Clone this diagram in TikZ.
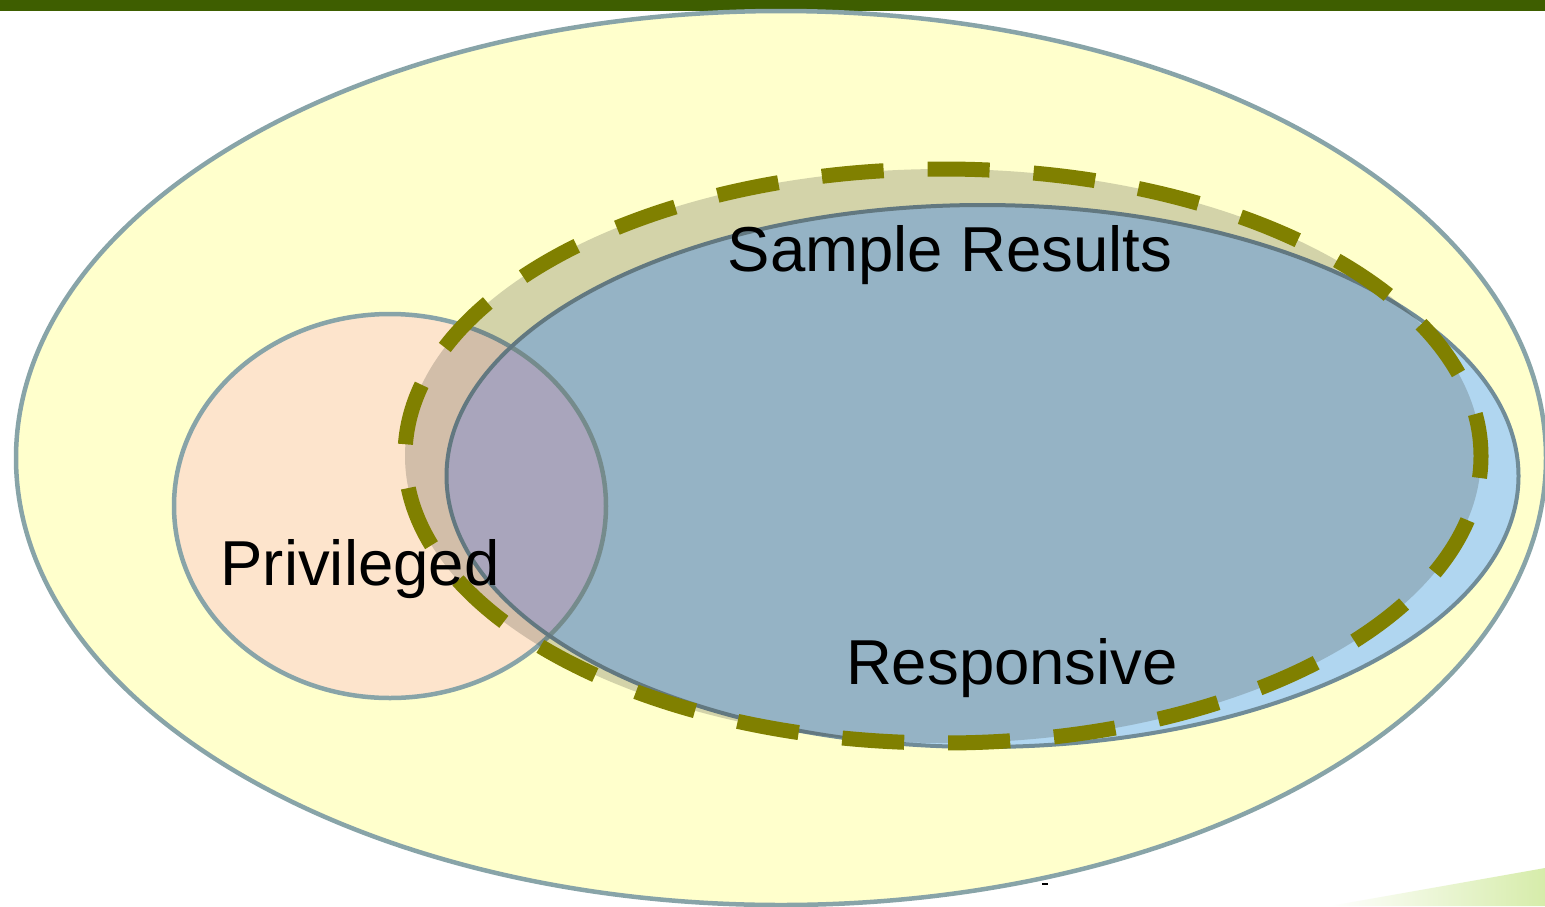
\documentclass[tikz,border=0pt]{standalone}
\usepackage{fontspec}
\setmainfont{Liberation Sans}
\begin{document}
\begin{tikzpicture}[x=1pt,y=-1pt,
  rimline/.style={draw=rim, line width=4.5pt},
  label/.style={font=\fontsize{63.5}{70}\selectfont, text=black, anchor=base, inner sep=0pt},
  samplerim/.style={draw=olivedash, line width=15pt, dash pattern=on 62pt off 44pt, dash phase=40pt}]
\definecolor{barGreen}{RGB}{62,94,0}
\definecolor{yellowFill}{RGB}{255,255,204}
\definecolor{rim}{RGB}{136,164,168}
\definecolor{peach}{RGB}{253,228,204}
\definecolor{skyblue}{RGB}{176,214,240}
\definecolor{lavender}{RGB}{202,196,228}
\definecolor{blueRim}{RGB}{112,140,152}
\definecolor{olivedash}{RGB}{128,128,0}
\definecolor{stipple}{RGB}{50,50,40}
\definecolor{paleGreen}{RGB}{214,236,170}

\useasboundingbox (0,0) rectangle (1545,906);
\fill[white] (0,0) rectangle (1545,906);

% soft green wedge in the lower right corner
\shade[left color=white, right color=paleGreen] (1330,906) -- (1545,868) -- (1545,906) -- cycle;

% header bar
\fill[barGreen] (0,0) rectangle (1545,10.5);

% all documents
\path[fill=yellowFill, rimline] (781,458) ellipse [x radius=765, y radius=447];
\coordinate (tick) at (1044.5,884);
\fill[black] ([xshift=-3pt,yshift=1.2pt]tick) rectangle ([xshift=3pt,yshift=-1.2pt]tick);

% privileged and responsive sets
\fill[peach] (390,506) ellipse [x radius=216, y radius=192];
\fill[skyblue] (982.5,476) ellipse [x radius=536, y radius=271];
\begin{scope}
  \clip (390,506) ellipse [x radius=216, y radius=192];
  \fill[lavender] (982.5,476) ellipse [x radius=536, y radius=271];
\end{scope}
\draw[rimline] (390,506) ellipse [x radius=216, y radius=192];
\draw[draw=blueRim, line width=4pt] (982.5,476) ellipse [x radius=536, y radius=271];

% sample results
\fill[stipple, fill opacity=0.21] (943,456) ellipse [x radius=538, y radius=287];
\draw[samplerim] (943,456) ellipse [x radius=538, y radius=287];

% labels
\node[label] (sample) at (950,271) {Sample Results};
\node[label] (priv) at (360,585) {Privileged};
\node[label] (resp) at (1012,684) {Responsive};
\end{tikzpicture}
\end{document}
